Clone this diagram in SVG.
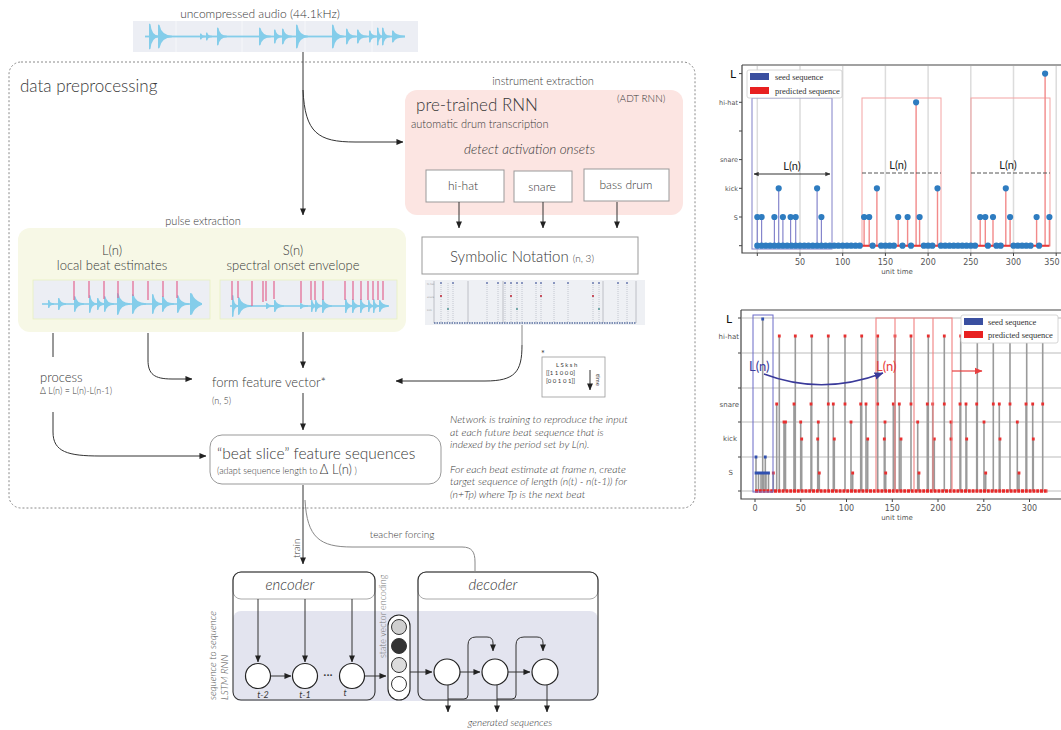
<svg xmlns="http://www.w3.org/2000/svg" width="1061" height="730" viewBox="0 0 1061 730">
<style>
.t{font-family:Lato,'Open Sans',sans-serif;fill:#383838;font-weight:300}
.n{font-weight:400}
.i{font-style:italic}
.ln{stroke:#333;stroke-width:1;fill:none}
.lg{stroke:#888;stroke-width:1;fill:none}
.arr{marker-end:url(#ah)}
.wave{fill:#84cdea}
.wbg{fill:#eceef4}
.red{stroke:#e3668f;stroke-width:1.2;fill:none}
.box{fill:#fff;stroke:#999;stroke-width:1}
.cir{fill:#fff;stroke:#222;stroke-width:1.2}
.ax{font-family:'DejaVu Sans',sans-serif;fill:#555}
.leg{font-family:'Liberation Serif',serif;fill:#333;font-size:8.5px}
</style>
<defs>
<marker id="ah" viewBox="0 0 8 8" refX="7.5" refY="4" markerWidth="7" markerHeight="7" markerUnits="userSpaceOnUse" orient="auto"><path d="M0,0.6 L8,4 L0,7.4z" fill="#222"/></marker>
<marker id="ahb" viewBox="0 0 8 8" refX="7.5" refY="4" markerWidth="9" markerHeight="9" markerUnits="userSpaceOnUse" orient="auto"><path d="M0,0.6 L8,4 L0,7.4z" fill="#3a3a9a"/></marker>
<marker id="ahr" viewBox="0 0 8 8" refX="7.5" refY="4" markerWidth="8" markerHeight="8" markerUnits="userSpaceOnUse" orient="auto"><path d="M0,0.6 L8,4 L0,7.4z" fill="#e84040"/></marker>
<marker id="ahs" viewBox="0 0 8 8" refX="7.5" refY="4" markerWidth="5" markerHeight="5" markerUnits="userSpaceOnUse" orient="auto-start-reverse"><path d="M0,0.6 L8,4 L0,7.4z" fill="#333"/></marker>
</defs>
<rect width="1061" height="730" fill="#fff"/>

<!-- data preprocessing container -->
<g id="container">
<rect x="9" y="62" width="686" height="446" rx="12" fill="none" stroke="#8a8a8a" stroke-width="1" stroke-dasharray="2,2"/>
<text class="t" x="20" y="92" font-size="17">data preprocessing</text>
</g>

<!-- audio -->
<g id="audio">
<text class="t" x="260" y="18" font-size="12" text-anchor="middle">uncompressed audio (44.1kHz)</text>
<rect class="wbg" x="133" y="21" width="285" height="31"/>
<path d="M176 21V52M242 21V52M305 21V52M372 21V52" stroke="#f6f7fa" stroke-width="1"/>
<rect class="wave" x="145" y="35.6" width="260" height="1.8"/>
<path class="wave" d="M149 23.5L150.5 24.15Q151.5 35.5 159 35.7L159 37.3Q151.5 37.5 150.5 48.85L149 49.5Z M158 24.5L159.5 25.1Q161.5 35.5 172 35.7L172 37.3Q161.5 37.5 159.5 47.9L158 48.5Z M200 33.5L201.5 33.65Q201.5 35.5 206 35.7L206 37.3Q201.5 37.5 201.5 39.35L200 39.5Z M206 32.5L207.5 32.7Q207.5 35.5 212 35.7L212 37.3Q207.5 37.5 207.5 40.3L206 40.5Z M217 27.5L218.5 27.95Q219.5 35.5 227 35.7L227 37.3Q219.5 37.5 218.5 45.05L217 45.5Z M259 27.5L260.5 27.95Q262 35.5 271 35.7L271 37.3Q262 37.5 260.5 45.05L259 45.5Z M274 29.5L275.5 29.85Q276 35.5 282 35.7L282 37.3Q276 37.5 275.5 43.15L274 43.5Z M282 28.5L283.5 28.9Q284.5 35.5 292 35.7L292 37.3Q284.5 37.5 283.5 44.1L282 44.5Z M296 24.5L297.5 25.1Q299 35.5 308 35.7L308 37.3Q299 37.5 297.5 47.9L296 48.5Z M332 24.5L333.5 25.1Q335 35.5 344 35.7L344 37.3Q335 37.5 333.5 47.9L332 48.5Z M346 28.5L347.5 28.9Q348.5 35.5 356 35.7L356 37.3Q348.5 37.5 347.5 44.1L346 44.5Z M357 29.5L358.5 29.85Q359.5 35.5 367 35.7L367 37.3Q359.5 37.5 358.5 43.15L357 43.5Z M369 30.5L370.5 30.8Q371 35.5 377 35.7L377 37.3Q371 37.5 370.5 42.2L369 42.5Z M377 27.5L378.5 27.95Q378.5 35.5 383 35.7L383 37.3Q378.5 37.5 378.5 45.05L377 45.5Z M382 27.5L383.5 27.95Q384 35.5 390 35.7L390 37.3Q384 37.5 383.5 45.05L382 45.5Z M392 30.5L393.5 30.8Q395.25 35.5 405 35.7L405 37.3Q395.25 37.5 393.5 42.2L392 42.5Z"/>
</g>

<!-- instrument extraction -->
<g id="rnn">
<text class="t" x="543" y="85" font-size="11" text-anchor="middle">instrument extraction</text>
<rect x="405" y="90" width="278" height="125" rx="12" fill="#fce5e2"/>
<text class="t" x="416" y="111" font-size="17">pre-trained RNN</text>
<text class="t" x="617" y="102" font-size="10">(ADT RNN)</text>
<text class="t" x="411" y="128" font-size="11">automatic drum transcription</text>
<text class="t i" x="464" y="154" font-size="13.5">detect activation onsets</text>
</g>
<g id="hihat"><rect class="box" x="426" y="170" width="78" height="32"/><text class="t" x="463" y="190" font-size="12" text-anchor="middle">hi-hat</text></g>
<g id="snare"><rect class="box" x="514" y="171" width="58" height="31"/><text class="t" x="542" y="191" font-size="12" text-anchor="middle">snare</text></g>
<g id="bassdrum"><rect class="box" x="584" y="169" width="85" height="32"/><text class="t" x="626" y="189" font-size="12" text-anchor="middle">bass drum</text></g>

<!-- symbolic notation -->
<g id="symbolic">
<rect class="box" x="422" y="237" width="216" height="37"/>
<text class="t" x="450" y="262" font-size="15">Symbolic Notation <tspan font-size="10">(n, 3)</tspan></text>
<rect x="425" y="280" width="220" height="45" fill="#eef0f4"/>
<path d="M441 283V323M453 283V323M487 283V323M498 283V323M505 283V323M511 283V323M517 283V323M522 283V323M536 283V323M541 283V323M554 283V323M568 283V323M593 283V323M599 283V323M618 283V323M627 283V323M448 283V323" stroke="#b8bcc8" stroke-width="0.8" stroke-dasharray="1,1"/>
<path d="M468 281V323M503 281V323M603 281V323M434 281V323M636 281V323" stroke="#b0b3bb" stroke-width="0.8"/>
<path d="M434 323H636" stroke="#5a6fa0" stroke-width="1.5" stroke-dasharray="1.5,1"/>
<path d="M441 283h0M453 283h0M487 283h0M498 283h0M505 283h0M511 283h0M517 283h0M522 283h0M536 283h0M541 283h0M554 283h0M568 283h0M593 283h0M599 283h0M618 283h0M627 283h0" stroke="#6b7bb0" stroke-width="2" stroke-linecap="round"/>
<path d="M441 296h0M511 296h0M541 296h0M593 296h0" stroke="#c03040" stroke-width="2.2" stroke-linecap="round"/>
<path d="M448 309h0M517 309h0M599 309h0" stroke="#5a9a9a" stroke-width="2.2" stroke-linecap="round"/>
<text x="427" y="285" font-family="DejaVu Sans,sans-serif" font-size="2.5" fill="#999">hi-hat</text>
<text x="427" y="298" font-family="DejaVu Sans,sans-serif" font-size="2.5" fill="#999">snare</text>
<text x="427" y="311" font-family="DejaVu Sans,sans-serif" font-size="2.5" fill="#999">kick</text>
</g>

<!-- pulse extraction -->
<g id="pulse">
<text class="t" x="203" y="225" font-size="11" text-anchor="middle">pulse extraction</text>
<rect x="18" y="228" width="388" height="104" rx="12" fill="#f7f8e6"/>
<text class="t" x="112" y="255" font-size="13" text-anchor="middle">L(n)</text>
<text class="t" x="112" y="270" font-size="13" text-anchor="middle">local beat estimates</text>
<text class="t" x="293" y="255" font-size="13" text-anchor="middle">S(n)</text>
<text class="t" x="293" y="270" font-size="13" text-anchor="middle">spectral onset envelope</text>
<rect class="wbg" x="33" y="280" width="177" height="39" stroke="#e8efc0" stroke-width="0.8"/>
<rect class="wbg" x="220" y="280" width="177" height="39" stroke="#e8efc0" stroke-width="0.8"/>
<rect class="wave" x="42" y="303.2" width="160" height="1.6"/>
<path class="wave" d="M48 300L49.5 300.2Q49.5 303 54 303.2L54 304.8Q49.5 305 49.5 307.8L48 308Z M58 298L59.5 298.3Q60 303 66 303.2L66 304.8Q60 305 59.5 309.7L58 310Z M74 296L75.5 296.4Q76.5 303 84 303.2L84 304.8Q76.5 305 75.5 311.6L74 312Z M89 295L90.5 295.45Q91 303 97 303.2L97 304.8Q91 305 90.5 312.55L89 313Z M97 298L98.5 298.3Q99 303 105 303.2L105 304.8Q99 305 98.5 309.7L97 310Z M104 296L105.5 296.4Q106.5 303 114 303.2L114 304.8Q106.5 305 105.5 311.6L104 312Z M117 293L118.5 293.55Q120.25 303 130 303.2L130 304.8Q120.25 305 118.5 314.45L117 315Z M132 294L133.5 294.5Q135.5 303 146 303.2L146 304.8Q135.5 305 133.5 313.5L132 314Z M152 294L153.5 294.5Q154.5 303 162 303.2L162 304.8Q154.5 305 153.5 313.5L152 314Z M162 296L163.5 296.4Q165 303 174 303.2L174 304.8Q165 305 163.5 311.6L162 312Z M177 295L178.5 295.45Q180 303 189 303.2L189 304.8Q180 305 178.5 312.55L177 313Z M190 293L192 293.5Q194 300 202 303.2L202 304.8Q194 308 192 314.5L190 315Z"/>
<rect class="wave" x="230" y="305.2" width="158" height="1.6"/>
<path class="wave" d="M232 295L233.5 295.55Q233.5 305 238 305.2L238 306.8Q233.5 307 233.5 316.45L232 317Z M238 297L239.5 297.45Q241.5 305 252 305.2L252 306.8Q241.5 307 239.5 314.55L238 315Z M266 303L267.5 303.15Q268 305 274 305.2L274 306.8Q268 307 267.5 308.85L266 309Z M274 300L275.5 300.3Q276.5 305 284 305.2L284 306.8Q276.5 307 275.5 311.7L274 312Z M300 303L301.5 303.15Q302 305 308 305.2L308 306.8Q302 307 301.5 308.85L300 309Z M311 300L312.5 300.3Q312.5 305 317 305.2L317 306.8Q312.5 307 312.5 311.7L311 312Z M315 300L316.5 300.3Q317 305 323 305.2L323 306.8Q317 307 316.5 311.7L315 312Z M322 299L323.5 299.35Q324.5 305 332 305.2L332 306.8Q324.5 307 323.5 312.65L322 313Z M345 299L346.5 299.35Q347 305 353 305.2L353 306.8Q347 307 346.5 312.65L345 313Z M352 299L353.5 299.35Q354 305 360 305.2L360 306.8Q354 307 353.5 312.65L352 313Z M360 299L361.5 299.35Q362 305 368 305.2L368 306.8Q362 307 361.5 312.65L360 313Z M368 300L369.5 300.3Q369.5 305 374 305.2L374 306.8Q369.5 307 369.5 311.7L368 312Z M373 299L374.5 299.35Q374.5 305 379 305.2L379 306.8Q374.5 307 374.5 312.65L373 313Z M379 300L380.5 300.3Q381.5 305 389 305.2L389 306.8Q381.5 307 380.5 311.7L379 312Z"/>
<path class="red" d="M74 281V300M89 281V298M104 281V299M118 281V298M133 281V296M148 281V300M163 281V297M177 281V298"/>
<path class="red" d="M232 281V300M238 281V298M252 281V306M263 281V302M266 281V301M274 281V299M301 281V303M311 281V300M315 281V300M323 281V300M345 281V300M353 281V300M361 281V300M368 281V300M373 281V300M378 281V300M383 281V300"/>
</g>

<!-- feature vector / process / beat slice -->
<g id="featurevector">
<text class="t" x="212" y="387" font-size="13">form feature vector*</text>
<text class="t" x="212" y="404" font-size="9">(n, 5)</text>
</g>
<g id="process">
<text class="t" x="40" y="382" font-size="13">process</text>
<text class="t" x="40" y="394" font-size="9">Δ L(n) = L(n)-L(n-1)</text>
</g>
<g id="beatslice">
<rect x="210" y="435" width="231" height="49" rx="12" fill="#fff" stroke="#999" stroke-width="1"/>
<text class="t" x="217" y="459" font-size="15.5">“beat slice” feature sequences</text>
<text class="t" x="217" y="474" font-size="9">(adapt sequence length to <tspan font-size="13">Δ L(n)</tspan> )</text>
</g>
<g id="matrix">
<text class="t n" x="541" y="357" font-size="9">*</text>
<rect x="542" y="357" width="63" height="40" fill="#fff" stroke="#999" stroke-width="0.8"/>
<text class="t n" x="556" y="367" font-size="6">L S k s h</text>
<text class="t n" x="546" y="375" font-size="6">[[1 1 0 0 0]</text>
<text class="t n" x="546" y="383" font-size="6">[0 0 1 0 1]]</text>
<path d="M590 370V390" class="ln" stroke-width="1.2" marker-end="url(#ah)"/>
<text class="t n" x="596" y="374" font-size="6" transform="rotate(90 596 374)">time</text>
</g>
<g id="note">
<text class="t i" x="450" y="423" font-size="10.5">Network is training to reproduce the input</text>
<text class="t i" x="450" y="435.5" font-size="10.5">at each future beat sequence that is</text>
<text class="t i" x="450" y="448" font-size="10.5">indexed by the period set by L(n).</text>
<text class="t i" x="450" y="472.5" font-size="10.5">For each beat estimate at frame n, create</text>
<text class="t i" x="450" y="485" font-size="10.5">target sequence of length (n(t) - n(t-1)) for</text>
<text class="t i" x="450" y="497.5" font-size="10.5">(n+Tp) where Tp is the next beat</text>
</g>

<!-- seq2seq -->
<g id="seq2seq">
<rect x="233" y="611" width="365" height="90" rx="8" fill="#e3e4ef"/>
<text class="t i" x="216" y="700" font-size="10" transform="rotate(-90 216 700)" style="fill:#555">sequence to sequence</text>
<text class="t i" x="228" y="700" font-size="10" transform="rotate(-90 228 700)" style="fill:#555">LSTM RNN</text>
</g>
<g id="encoder">
<rect x="233" y="572" width="142" height="27" rx="8" fill="#fff" stroke="#aaa"/>
<rect x="233" y="572" width="142" height="128" rx="8" fill="none" stroke="#333" stroke-width="1.1"/>
<text class="t i" x="290" y="590" font-size="15" text-anchor="middle">encoder</text>
<circle class="cir" cx="258" cy="676" r="12.5"/>
<circle class="cir" cx="305" cy="676" r="12.5"/>
<circle class="cir" cx="352" cy="676" r="12.5"/>
<text class="t n" x="328" y="679" font-size="12" text-anchor="middle">···</text>
<text class="t i n" x="263" y="697.5" font-size="9" text-anchor="middle">t-2</text>
<text class="t i n" x="305" y="697.5" font-size="9" text-anchor="middle">t-1</text>
<text class="t i n" x="345" y="696" font-size="9" text-anchor="middle">t</text>
</g>
<g id="statevector">
<text class="t" x="386" y="658" font-size="9" transform="rotate(-90 386 658)" style="fill:#777">state vector encoding</text>
<rect x="388" y="615" width="22" height="85" rx="11" fill="#fff" stroke="#222" stroke-width="1.1"/>
<circle cx="399" cy="627" r="7.5" fill="#cfcfcf" stroke="#333"/>
<circle cx="399" cy="646" r="7.5" fill="#333" stroke="#333"/>
<circle cx="399" cy="665" r="7.5" fill="#dcdcdc" stroke="#333"/>
<circle cx="399" cy="684" r="7.5" fill="#fff" stroke="#333"/>
</g>
<g id="decoder">
<rect x="418" y="572" width="180" height="27" rx="8" fill="#fff" stroke="#aaa"/>
<rect x="418" y="572" width="180" height="128" rx="8" fill="none" stroke="#333" stroke-width="1.1"/>
<text class="t i" x="493" y="590" font-size="15" text-anchor="middle">decoder</text>
<circle class="cir" cx="447" cy="672" r="13"/>
<circle class="cir" cx="495" cy="672" r="13"/>
<circle class="cir" cx="545" cy="672" r="13"/>
<text class="t i" x="510" y="726" font-size="10" text-anchor="middle">generated sequences</text>
</g>

<!-- connectors -->
<g id="connectors">
<path class="ln arr" d="M303 52V215"/>
<path class="ln arr" d="M303 90C305 133 318 142 355 142H403"/>
<path class="ln arr" d="M459 202V228"/>
<path class="ln arr" d="M543 202V228"/>
<path class="ln arr" d="M617 202V228"/>
<path class="ln arr" d="M303 332V368"/>
<path class="ln arr" d="M148 333V360C148 374 154 379 172 379H192"/>
<path class="lg" d="M522 325V345" stroke="#555"/>
<path class="ln arr" d="M522 345C522 372 515 381 485 381H396"/>
<path class="ln arr" d="M303 393V430"/>
<path class="ln" d="M53 333V357"/>
<path class="ln arr" d="M53 412V432C53 452 68 456 100 456H206"/>
<path class="ln arr" d="M303 485V564"/>
<path class="lg" d="M305 500C307 538 320 547 352 547H462C472 547 475 552 475 562V572"/>
<text class="t" x="402" y="538" font-size="10" text-anchor="middle">teacher forcing</text>
<text class="t" x="300" y="558" font-size="10" transform="rotate(-90 300 558)">train</text>
<path class="ln arr" d="M258 599V662"/>
<path class="ln arr" d="M305 599V662"/>
<path class="ln arr" d="M352 599V662"/>
<path class="ln arr" d="M270.5 676H291"/>
<path class="ln arr" d="M364.5 676H386"/>
<path class="ln arr" d="M410 672H432"/>
<path class="ln arr" d="M460 672H480"/>
<path class="ln arr" d="M508 672H530"/>
<path class="ln" d="M448 699H464Q468 699 468 695V645Q468 637 476 637H487Q493 637 493 643V651" marker-end="url(#ah)"/>
<path class="ln" d="M497 699H512Q516 699 516 695V645Q516 637 524 637H537Q543 637 543 643V651" marker-end="url(#ah)"/>
<path class="ln arr" d="M448 685V712"/>
<path class="ln arr" d="M497 685V712"/>
<path class="ln arr" d="M547 685V712"/>
</g>

<!-- top chart -->
<g id="chart-top">
<path d="M757.3 66V253M800 66V253M842.7 66V253M885.4 66V253M928.1 66V253M970.8 66V253M1013.5 66V253M1056.2 66V253" stroke="#dcdcdc" stroke-width="1.5"/>
<path d="M742 65V253H1061M742 65H1061" stroke="#444" stroke-width="1.2" fill="none"/>
<path d="M757.3 253v3M800 253v3M842.7 253v3M885.4 253v3M928.1 253v3M970.8 253v3M1013.5 253v3M1056.2 253v3M739 73.6h3M739 102.3h3M739 131h3M739 159.6h3M739 188.3h3M739 217h3M739 245.7h3" stroke="#444"/>
<g class="ax" font-size="8" text-anchor="middle">
<text x="800" y="265">50</text><text x="842.7" y="265">100</text><text x="885.4" y="265">150</text><text x="928.1" y="265">200</text><text x="970.8" y="265">250</text><text x="1013.5" y="265">300</text><text x="1052" y="265">350</text>
</g>
<text class="ax" x="897" y="274" font-size="7" text-anchor="middle">unit time</text>
<text class="t n" x="733" y="78" font-size="12" text-anchor="middle" style="fill:#111">L</text>
<g class="ax" font-size="6.5" text-anchor="end">
<text x="738" y="105">hi-hat</text><text x="738" y="162">snare</text><text x="738" y="191">kick</text><text x="738" y="220">S</text>
</g>
<rect x="752" y="98" width="80" height="151" fill="none" stroke="#8080c8" stroke-width="1"/>
<rect x="862" y="98" width="79" height="148" fill="none" stroke="#f4a4a4" stroke-width="1"/>
<rect x="971" y="98" width="79" height="148" fill="none" stroke="#f4a4a4" stroke-width="1"/>
<path d="M757.3 245.7V217M761.6 245.7V217M774.4 245.7V217M778.7 245.7V188.3M782.9 245.7V217M790.6 245.7V217M795.7 245.7V217M817.1 245.7V188.3M821.4 245.7V217" stroke="#8585cc" stroke-width="1.2"/>
<path d="M864.1 245.7V217M869.2 245.7V217M876.9 245.7V188.3M898.2 245.7V217M907.6 245.7V217M916.1 245.7V102.3M919.6 245.7V217M937.5 245.7V188.3M980.2 245.7V217M985.3 245.7V217M993 245.7V217M1005.8 245.7V188.3M1010.1 245.7V217M1036.6 245.7V217M1045.1 245.7V73.6M1049.4 245.7V217" stroke="#f28a8a" stroke-width="1.4"/>
<path d="M757 245.7H1049.4" stroke="#e83a3a" stroke-width="2"/>
<path d="M757.3 245.7h0M761.6 245.7h0M765.8 245.7h0M770.1 245.7h0M774.4 245.7h0M778.7 245.7h0M782.9 245.7h0M787.2 245.7h0M791.5 245.7h0M795.7 245.7h0M800 245.7h0M804.3 245.7h0M808.5 245.7h0M812.8 245.7h0M817.1 245.7h0M821.4 245.7h0M825.6 245.7h0M829.9 245.7h0M834.2 245.7h0M838.4 245.7h0M842.7 245.7h0M847 245.7h0M851.2 245.7h0M855.5 245.7h0M859.8 245.7h0M872.6 245.7h0M881.1 245.7h0M885.4 245.7h0M889.7 245.7h0M893.9 245.7h0M902.5 245.7h0M911 245.7h0M923.8 245.7h0M928.1 245.7h0M932.4 245.7h0M940.9 245.7h0M945.2 245.7h0M949.5 245.7h0M953.7 245.7h0M958 245.7h0M962.3 245.7h0M966.5 245.7h0M970.8 245.7h0M975.1 245.7h0M987.9 245.7h0M996.4 245.7h0M1000.7 245.7h0M1013.5 245.7h0M1017.8 245.7h0M1022.1 245.7h0M1026.3 245.7h0M1030.6 245.7h0M1039.1 245.7h0 M757.3 217h0M761.6 217h0M774.4 217h0M778.7 188.3h0M782.9 217h0M790.6 217h0M795.7 217h0M817.1 188.3h0M821.4 217h0 M864.1 217h0M869.2 217h0M876.9 188.3h0M898.2 217h0M907.6 217h0M916.1 102.3h0M919.6 217h0M937.5 188.3h0M980.2 217h0M985.3 217h0M993 217h0M1005.8 188.3h0M1010.1 217h0M1036.6 217h0M1045.1 73.6h0M1049.4 217h0" stroke="#2e7cc0" stroke-width="6.2" stroke-linecap="round"/>
<path d="M754 174H830" stroke="#333" stroke-width="1" marker-start="url(#ahs)" marker-end="url(#ahs)"/>
<text class="t n" x="792" y="170" font-size="11" text-anchor="middle" style="fill:#222">L(n)</text>
<path d="M862 173H941M971 173H1050" stroke="#555" stroke-width="1" stroke-dasharray="4,2"/>
<text class="t n" x="898" y="169" font-size="11" text-anchor="middle" style="fill:#222">L(n)</text>
<text class="t n" x="1008" y="169" font-size="11" text-anchor="middle" style="fill:#222">L(n)</text>
<rect x="747" y="70" width="95" height="28" fill="#fff" fill-opacity="0.92" stroke="#ccc" stroke-width="0.8" rx="2"/>
<rect x="750" y="73" width="19" height="7" fill="#3a4fa0"/>
<rect x="750" y="87" width="19" height="7" fill="#e82020"/>
<text class="leg" x="775" y="80">seed sequence</text>
<text class="leg" x="775" y="94">predicted sequence</text>
</g>

<!-- bottom chart -->
<g id="chart-bottom">
<path d="M742 318H1061M742 353H1061M742 388H1061M742 422H1061M742 457H1061M742 491H1061" stroke="#d2d2d2" stroke-width="1.3"/>
<path d="M741 310V499H1061M741 310H1061" stroke="#444" stroke-width="1.2" fill="none"/>
<path d="M738 318h3M738 353h3M738 388h3M738 422h3M738 457h3M738 491h3M755 499v3M800.8 499v3M846.5 499v3M892.3 499v3M938 499v3M983.8 499v3M1029.5 499v3" stroke="#444"/>
<g class="ax" font-size="8" text-anchor="middle">
<text x="755" y="511">0</text><text x="800.8" y="511">50</text><text x="846.5" y="511">100</text><text x="892.3" y="511">150</text><text x="938" y="511">200</text><text x="983.8" y="511">250</text><text x="1029.5" y="511">300</text>
</g>
<text class="ax" x="897" y="520" font-size="7" text-anchor="middle">unit time</text>
<text class="t n" x="729" y="323" font-size="12" text-anchor="middle" style="fill:#111">L</text>
<g class="ax" font-size="7" text-anchor="end">
<text x="739" y="339">hi-hat</text><text x="739" y="407">snare</text><text x="737" y="441">kick</text><text x="733" y="475">S</text>
</g>
<path d="M779.3 491V336M795.3 491V336M811.7 491V336M828.3 491V336M845 491V336M861.7 491V336M877.7 491V336M895 491V336M911 491V336M928.3 491V336M944.3 491V336M960.7 491V336M977.3 491V336M993.3 491V336M1010 491V336M1026.7 491V336M1042.7 491V336 M776.7 491V404M794 491V404M811 491V404M833.3 491V404M860.7 491V404M866 491V404M893.3 491V404M899.3 491V404M927.3 491V404M932.7 491V404M960 491V404M966 491V404M976.7 491V404M999.3 491V404M1026 491V404M1032.7 491V404 M784 491V422M785.5 491V422M800.7 491V422M818.3 491V422M851 491V422M885 491V422M917.7 491V422M951 491V422M984 491V422M1017.3 491V422 M801.7 491V439M817.7 491V439M834.3 491V439M867.7 491V439M884.3 491V439M901 491V439M934.3 491V439M966.7 491V439M1000 491V439M1033.3 491V439 M773.3 491V473M819.3 491V473M852.7 491V473M885.7 491V473M919 491V473M985.7 491V473M1019 491V473 M762.7 491V319M756 491V457M765.3 491V457M758.5 491V473M761 491V473M763.5 491V473M766 491V473M768.5 491V473" stroke="#9a9a9a" stroke-width="1.6"/>
<path d="M755 491H1048" stroke="#e82828" stroke-width="3.4" stroke-dasharray="3,0.8"/>
<path d="M779.3 336h0M795.3 336h0M811.7 336h0M828.3 336h0M845 336h0M861.7 336h0M877.7 336h0M895 336h0M911 336h0M928.3 336h0M944.3 336h0M960.7 336h0M977.3 336h0M993.3 336h0M1010 336h0M1026.7 336h0M1042.7 336h0 M776.7 404h0M794 404h0M811 404h0M828.3 404h0M833.3 404h0M845 404h0M860.7 404h0M866 404h0M877.7 404h0M893.3 404h0M899.3 404h0M911 404h0M927.3 404h0M932.7 404h0M944.3 404h0M960 404h0M966 404h0M976.7 404h0M993.3 404h0M999.3 404h0M1010 404h0M1026 404h0M1032.7 404h0M1042.7 404h0 M784 422h0M785.5 422h0M800.7 422h0M818.3 422h0M851 422h0M885 422h0M917.7 422h0M951 422h0M984 422h0M1017.3 422h0 M801.7 439h0M817.7 439h0M834.3 439h0M867.7 439h0M884.3 439h0M901 439h0M934.3 439h0M951 439h0M966.7 439h0M1000 439h0M1033.3 439h0 M773.3 473h0M819.3 473h0M852.7 473h0M885.7 473h0M919 473h0M985.7 473h0M1019 473h0" stroke="#e83030" stroke-width="2.8" stroke-linecap="square"/>
<path d="M762.7 319h0M756 457h0M765.3 457h0M756 473h0M758.5 473h0M761 473h0M763.5 473h0M766 473h0M768.5 473h0" stroke="#3050b0" stroke-width="2.8" stroke-linecap="square"/>
<rect x="753" y="315" width="20" height="177" fill="none" stroke="#6a6ac8" stroke-width="1"/>
<path d="M876 492V318H952V492M895 318V492M914 318V492M933 318V492" fill="none" stroke="#f08080" stroke-width="1.1"/>
<text class="t n" x="749" y="371" font-size="13" style="fill:#3a3a9a">L(n)</text>
<text class="t n" x="876" y="371" font-size="13" style="fill:#e84040">L(n)</text>
<path d="M764 374Q822 396 883 373" fill="none" stroke="#3a3a9a" stroke-width="1.5" marker-end="url(#ahb)"/>
<path d="M952 371H982" fill="none" stroke="#e84040" stroke-width="1.2" marker-end="url(#ahr)"/>
<rect x="961" y="315" width="97" height="28" fill="#fff" stroke="#ccc" stroke-width="0.8" rx="2"/>
<rect x="964" y="318" width="19" height="7" fill="#3a4fa0"/>
<rect x="964" y="331" width="19" height="7" fill="#e82020"/>
<text class="leg" x="988" y="325">seed sequence</text>
<text class="leg" x="988" y="338">predicted sequence</text>
</g>
</svg>
